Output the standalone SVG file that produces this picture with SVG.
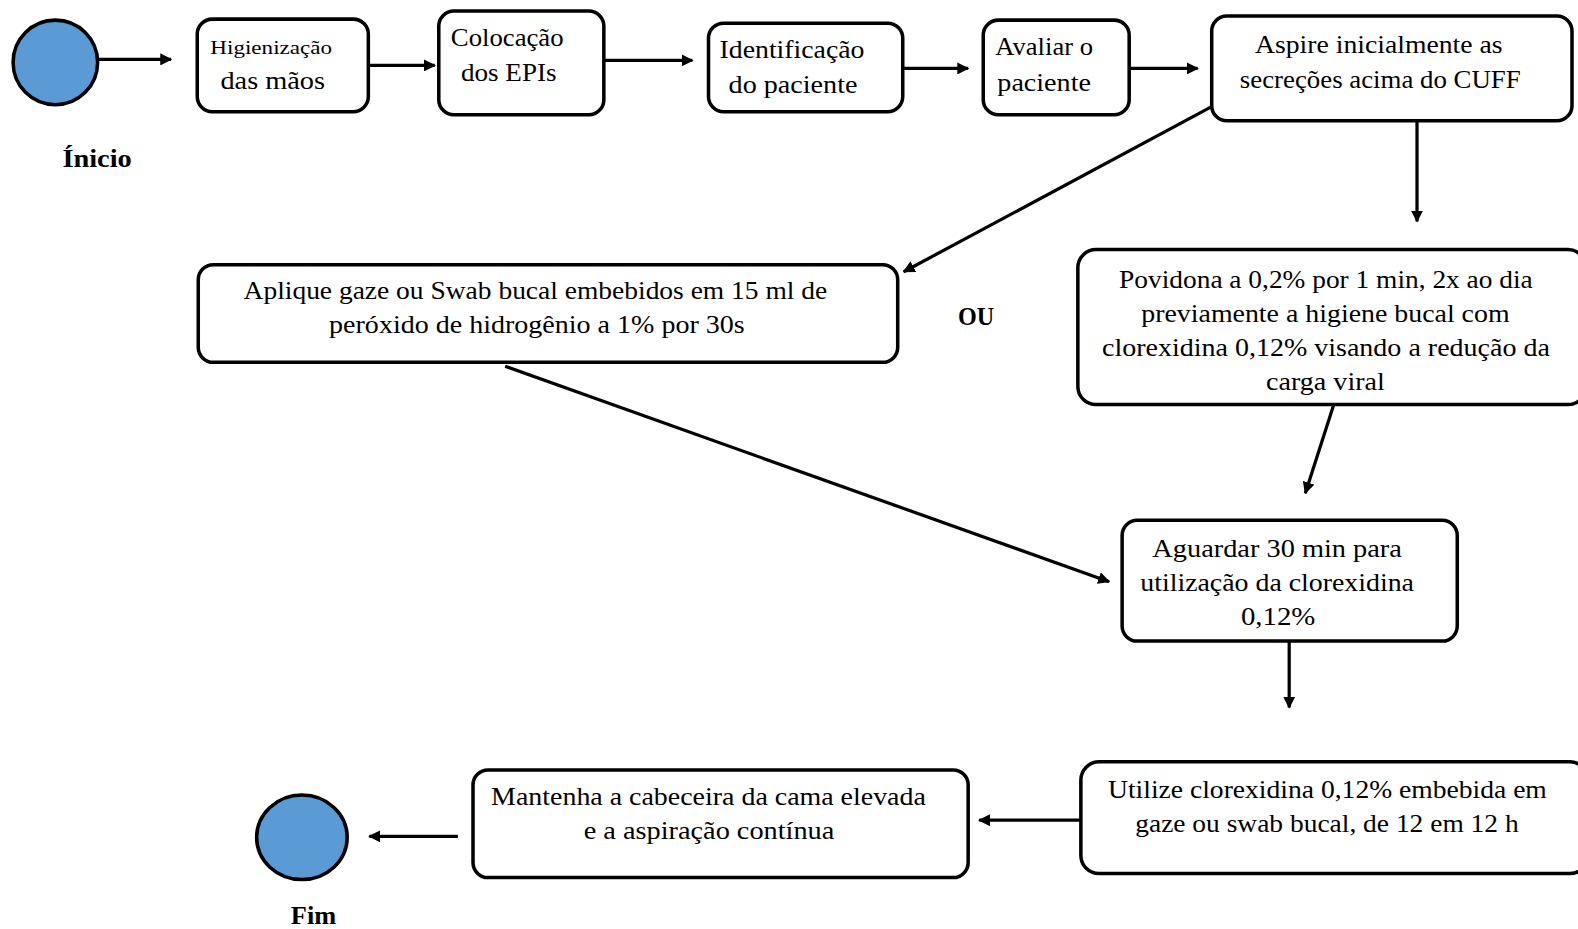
<svg xmlns="http://www.w3.org/2000/svg" width="1578" height="929" viewBox="0 0 1578 929">
  <defs>
    <marker id="arrow" viewBox="0 0 10 10" refX="9" refY="5" markerWidth="12" markerHeight="12" markerUnits="userSpaceOnUse" orient="auto">
      <path d="M0,0 L10,5 L0,10 z" fill="#000"/>
    </marker>
    <style>
      .box { fill: #fff; stroke: #000; stroke-width: 3.5; }
      .term { fill: #5b9bd5; stroke: #000; stroke-width: 3.5; }
      .t { font-family: "Liberation Serif", "DejaVu Serif", serif; font-size: 25px; fill: #000; }
      .b { font-family: "Liberation Serif", "DejaVu Serif", serif; font-size: 25px; font-weight: bold; fill: #000; }
      .conn line { stroke: #000; stroke-width: 3.2; marker-end: url(#arrow); }
    </style>
  </defs>
  <rect width="1578" height="929" fill="#fff"/>
  <g transform="scale(1.0064)">
    <!-- start / end terminals -->
    <g id="inicio">
      <ellipse class="term" cx="55" cy="62" rx="42" ry="42"/>
      <text class="b" x="62" y="166" textLength="69" lengthAdjust="spacingAndGlyphs">Ínicio</text>
    </g>
    <g id="fim">
      <ellipse class="term" cx="300" cy="832" rx="45" ry="42"/>
      <text class="b" x="289" y="918" textLength="45" lengthAdjust="spacingAndGlyphs">Fim</text>
    </g>

    <!-- top row of steps -->
    <g id="higienizacao">
      <rect class="box" x="196" y="19" width="170" height="92" rx="15"/>
      <text class="t" x="209" y="54" style="font-size:18px" textLength="121" lengthAdjust="spacingAndGlyphs">Higienização</text>
      <text class="t" x="219" y="88" textLength="104" lengthAdjust="spacingAndGlyphs">das mãos</text>
    </g>
    <g id="colocacao">
      <rect class="box" x="436" y="11" width="164" height="103" rx="15"/>
      <text class="t" x="448" y="46" textLength="112" lengthAdjust="spacingAndGlyphs">Colocação</text>
      <text class="t" x="458" y="80" textLength="95" lengthAdjust="spacingAndGlyphs">dos EPIs</text>
    </g>
    <g id="identificacao">
      <rect class="box" x="704" y="23" width="193" height="88" rx="15"/>
      <text class="t" x="715" y="58" textLength="144" lengthAdjust="spacingAndGlyphs">Identificação</text>
      <text class="t" x="724" y="92" textLength="128" lengthAdjust="spacingAndGlyphs">do paciente</text>
    </g>
    <g id="avaliar">
      <rect class="box" x="977" y="20" width="145" height="94" rx="15"/>
      <text class="t" x="989" y="55" textLength="97" lengthAdjust="spacingAndGlyphs">Avaliar o</text>
      <text class="t" x="991" y="90" textLength="93" lengthAdjust="spacingAndGlyphs">paciente</text>
    </g>
    <g id="aspire">
      <rect class="box" x="1204" y="16" width="358" height="104" rx="15"/>
      <text class="t" x="1247" y="53" textLength="246" lengthAdjust="spacingAndGlyphs">Aspire inicialmente as</text>
      <text class="t" x="1232" y="87" textLength="279" lengthAdjust="spacingAndGlyphs">secreções acima do CUFF</text>
    </g>

    <!-- alternative branches -->
    <g id="peroxido">
      <rect class="box" x="197" y="263" width="695" height="97" rx="15"/>
      <text class="t" x="242" y="297" textLength="580" lengthAdjust="spacingAndGlyphs">Aplique gaze ou Swab bucal embebidos em 15 ml de</text>
      <text class="t" x="327" y="331" textLength="413" lengthAdjust="spacingAndGlyphs">peróxido de hidrogênio a 1% por 30s</text>
    </g>
    <g id="ou">
      <text class="b" x="952" y="323" textLength="36" lengthAdjust="spacingAndGlyphs">OU</text>
    </g>
    <g id="povidona">
      <rect class="box" x="1071" y="248" width="505" height="154" rx="18"/>
      <text class="t" x="1112" y="286" textLength="411" lengthAdjust="spacingAndGlyphs">Povidona a 0,2% por 1 min, 2x ao dia</text>
      <text class="t" x="1134" y="320" textLength="366" lengthAdjust="spacingAndGlyphs">previamente a higiene bucal com</text>
      <text class="t" x="1095" y="354" textLength="445" lengthAdjust="spacingAndGlyphs">clorexidina 0,12% visando a redução da</text>
      <text class="t" x="1258" y="388" textLength="118" lengthAdjust="spacingAndGlyphs">carga viral</text>
    </g>
    <g id="aguardar">
      <rect class="box" x="1115" y="517" width="333" height="120" rx="15"/>
      <text class="t" x="1145" y="553" textLength="248" lengthAdjust="spacingAndGlyphs">Aguardar 30 min para</text>
      <text class="t" x="1133" y="587" textLength="272" lengthAdjust="spacingAndGlyphs">utilização da clorexidina</text>
      <text class="t" x="1233" y="621" textLength="74" lengthAdjust="spacingAndGlyphs">0,12%</text>
    </g>

    <!-- bottom row -->
    <g id="utilize">
      <rect class="box" x="1074" y="757" width="504" height="111" rx="18"/>
      <text class="t" x="1101" y="793" textLength="436" lengthAdjust="spacingAndGlyphs">Utilize clorexidina 0,12% embebida em</text>
      <text class="t" x="1128" y="827" textLength="381" lengthAdjust="spacingAndGlyphs">gaze ou swab bucal, de 12 em 12 h</text>
    </g>
    <g id="mantenha">
      <rect class="box" x="470" y="765" width="492" height="107" rx="15"/>
      <text class="t" x="488" y="800" textLength="432" lengthAdjust="spacingAndGlyphs">Mantenha a cabeceira da cama elevada</text>
      <text class="t" x="580" y="834" textLength="249" lengthAdjust="spacingAndGlyphs">e a aspiração contínua</text>
    </g>

    <!-- connectors -->
    <g id="connectors" class="conn">
      <line x1="97" y1="59" x2="170" y2="59"/>
      <line x1="366" y1="65" x2="432" y2="65"/>
      <line x1="600" y1="60" x2="688" y2="60"/>
      <line x1="897" y1="68" x2="962" y2="68"/>
      <line x1="1122" y1="68" x2="1190" y2="68"/>
      <line x1="1204" y1="106" x2="898" y2="270"/>
      <line x1="1408" y1="120" x2="1408" y2="220"/>
      <line x1="1325" y1="403" x2="1297" y2="490"/>
      <line x1="502" y1="364" x2="1102" y2="578"/>
      <line x1="1281" y1="637" x2="1281" y2="703"/>
      <line x1="1074" y1="815" x2="973" y2="815"/>
      <line x1="455" y1="831" x2="367" y2="831"/>
    </g>
  </g>
</svg>
